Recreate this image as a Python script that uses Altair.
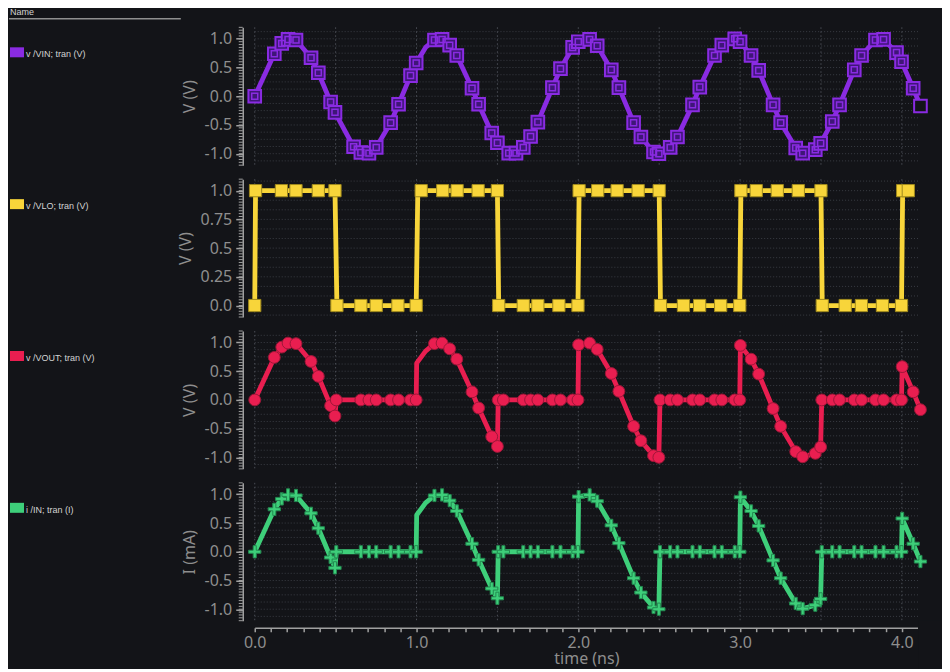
import altair as alt
import pandas as pd

BG = "#131418"
AXIS_C = "#a0a0a0"
LABEL_C = "#8e8e8e"
GRID_H = "#3a3d44"
GRID_V = "#4b4e56"
FONT = "Noto Sans"
LFONT = "Liberation Sans"

W, H = 664, 138
X_DOMAIN = [0.0, 4.1]
LX = -246  # left edge of the name column, relative to the plot area

NAMES = ["v /VIN; tran (V)", "v /VLO; tran (V)", "v /VOUT; tran (V)", "i /IN; tran (I)"]
COLORS = ["#8a2be2", "#f8d53a", "#e91e50", "#3ecf7a"]
Y_TITLES = ["V (V)", "V (V)", "V (V)", "I (mA)"]

# ---- VIN (purple) ----
VIN_T = [0.0, 0.121, 0.167, 0.206, 0.255, 0.348, 0.393, 0.469, 0.496, 0.611, 0.656, 0.706, 0.751, 0.840, 0.889, 0.963, 0.998,
         1.056,
         1.111, 1.158, 1.205, 1.249, 1.343, 1.384, 1.465, 1.500, 1.570, 1.615, 1.660, 1.705, 1.750, 1.840, 1.890, 1.965, 2.000, 2.070, 2.117,
         2.204, 2.251, 2.342, 2.387, 2.465, 2.498, 2.568, 2.613, 2.706, 2.751, 2.842, 2.887, 2.967, 3.000,
         3.068, 3.115, 3.204, 3.251, 3.344, 3.387, 3.465, 3.498, 3.570, 3.615, 3.706, 3.751, 3.837, 3.887, 3.967, 3.998, 4.070, 4.115]
VIN_V = [0.0, 0.74, 0.92, 0.99, 0.98, 0.67, 0.41, -0.10, -0.28, -0.88, -0.98, -0.99, -0.89, -0.46, -0.14, 0.36, 0.58,
         0.85,
         0.98, 0.99, 0.89, 0.71, 0.14, -0.14, -0.64, -0.81, -0.99, -0.99, -0.89, -0.70, -0.45, 0.15, 0.48, 0.85, 0.95, 0.99, 0.88,
         0.46, 0.15, -0.46, -0.71, -0.97, -1.0, -0.89, -0.71, -0.15, 0.16, 0.71, 0.89, 1.0, 0.95,
         0.71, 0.45, -0.15, -0.46, -0.90, -0.99, -0.93, -0.82, -0.44, -0.15, 0.46, 0.71, 0.98, 0.99, 0.76, 0.60, 0.14, -0.17]
VIN_LINE_ONLY = [1.056]

# ---- VLO (yellow) ----
VLO_T = [0.0, 0.005, 0.165, 0.255, 0.393, 0.496, 0.508, 0.656, 0.751, 0.885, 0.998,
         1.008, 1.029, 1.162, 1.251, 1.381, 1.500, 1.508, 1.660, 1.750, 1.880, 1.998,
         2.005, 2.120, 2.240, 2.370, 2.500, 2.508, 2.650, 2.750, 2.880, 2.998,
         3.005, 3.100, 3.230, 3.360, 3.500, 3.508, 3.650, 3.750, 3.880, 3.998,
         4.005, 4.040]
VLO_V = [0, 1, 1, 1, 1, 1, 0, 0, 0, 0, 0,
         1, 1, 1, 1, 1, 1, 0, 0, 0, 0, 0,
         1, 1, 1, 1, 1, 0, 0, 0, 0, 0,
         1, 1, 1, 1, 1, 0, 0, 0, 0, 0,
         1, 1]
VLO_LINE_ONLY = [1.008]

# ---- VOUT (red) ----
VOUT_T = [0.0, 0.121, 0.167, 0.206, 0.255, 0.348, 0.393, 0.469, 0.496, 0.504, 0.656, 0.706, 0.751, 0.840, 0.889, 0.963, 0.998,
          1.001, 1.056, 1.111, 1.158, 1.205, 1.249, 1.343, 1.384, 1.465, 1.500,
          1.505, 1.537, 1.660, 1.705, 1.750, 1.840, 1.890, 1.965, 1.998,
          2.002, 2.070, 2.117, 2.204, 2.251, 2.342, 2.387, 2.465, 2.498,
          2.505, 2.568, 2.613, 2.706, 2.751, 2.842, 2.887, 2.967, 2.998,
          3.002, 3.068, 3.115, 3.204, 3.251, 3.344, 3.387, 3.465, 3.498,
          3.505, 3.570, 3.615, 3.706, 3.751, 3.837, 3.887, 3.967, 3.998,
          4.002, 4.070, 4.115]
VOUT_V = [0.0, 0.74, 0.92, 0.99, 0.98, 0.67, 0.41, -0.10, -0.28, 0.0, 0, 0, 0, 0, 0, 0, 0,
          0.64, 0.85, 0.98, 0.99, 0.89, 0.71, 0.14, -0.14, -0.64, -0.81,
          0.0, 0, 0, 0, 0, 0, 0, 0, 0,
          0.96, 0.99, 0.88, 0.46, 0.15, -0.46, -0.71, -0.97, -1.0,
          0.0, 0, 0, 0, 0, 0, 0, 0, 0,
          0.95, 0.71, 0.45, -0.15, -0.46, -0.90, -0.99, -0.93, -0.82,
          0.0, 0, 0, 0, 0, 0, 0, 0, 0,
          0.58, 0.14, -0.17]
VOUT_LINE_ONLY = [1.001, 1.056]

# ---- I(IN) (green, mA) ----
IIN_T = [0.0, 0.121, 0.167, 0.206, 0.255, 0.348, 0.393, 0.469, 0.496, 0.504, 0.656, 0.706, 0.751, 0.840, 0.889, 0.963, 0.998,
         1.001, 1.056, 1.111, 1.158, 1.205, 1.249, 1.343, 1.384, 1.465, 1.500,
         1.505, 1.537, 1.660, 1.705, 1.750, 1.840, 1.890, 1.965, 1.998,
         2.002, 2.070, 2.117, 2.204, 2.251, 2.342, 2.387, 2.465, 2.498,
         2.505, 2.568, 2.613, 2.706, 2.751, 2.842, 2.887, 2.967, 2.998,
         3.002, 3.068, 3.115, 3.204, 3.251, 3.344, 3.387, 3.465, 3.498,
         3.505, 3.570, 3.615, 3.706, 3.751, 3.837, 3.887, 3.967, 3.998,
         4.002, 4.070, 4.115]
IIN_V = [0.0, 0.74, 0.92, 0.99, 0.98, 0.67, 0.41, -0.10, -0.28, 0.0, 0, 0, 0, 0, 0, 0, 0,
         0.64, 0.85, 0.98, 0.99, 0.89, 0.71, 0.14, -0.14, -0.64, -0.81,
         0.0, 0, 0, 0, 0, 0, 0, 0, 0,
         0.96, 0.99, 0.88, 0.46, 0.15, -0.46, -0.71, -0.97, -1.0,
         0.0, 0, 0, 0, 0, 0, 0, 0, 0,
         0.95, 0.71, 0.45, -0.15, -0.46, -0.90, -0.99, -0.93, -0.82,
         0.0, 0, 0, 0, 0, 0, 0, 0, 0,
         0.58, 0.14, -0.17]
IIN_LINE_ONLY = [1.001, 1.056]

# axis tick / grid values
X_TICKS = [round(0.1 * i, 1) for i in range(41)]
X_GRID = [round(0.5 * i, 1) for i in range(9)]
Y_MAJOR_SYM = [-1.0, -0.5, 0.0, 0.5, 1.0]
Y_MINOR_SYM = [round(-1.2 + 0.05 * i, 2) for i in range(49)]
Y_GRID_SYM = [round(-1.125 + 0.125 * i, 3) for i in range(19)]
Y_MAJOR_LO = [0.0, 0.25, 0.5, 0.75, 1.0]
Y_MINOR_LO = [round(-0.1 + 0.025 * i, 3) for i in range(49)]
Y_GRID_LO = [round(k / 12, 4) for k in range(-1, 14)]

SYM_LABEL = "datum.value < 0 ? '-' + format(-datum.value, '.1f') : format(datum.value, '.1f')"
LO_LABEL = "datum.value == 0.25 ? '0.25' : datum.value == 0.75 ? '0.75' : format(datum.value, '.1f')"


def frame(t, v, line_only, end_hollow=False):
    m = [0 if x in line_only else 1 for x in t]
    if end_hollow:
        m[-1] = 2
    return pd.DataFrame({"i": list(range(len(t))), "t": t, "v": v, "m": m})


CROSS = "M-0.25,-1H0.25V-0.25H1V0.25H0.25V1H-0.25V0.25H-1V-0.25H-0.25Z"


def panel(idx, df, y_domain, y_major, y_minor, y_grid, label_expr, show_x, show_name):
    color = COLORS[idx]
    xs = alt.Scale(domain=X_DOMAIN, nice=False, zero=False)
    ys = alt.Scale(domain=y_domain, nice=False, zero=False)
    yaxis = alt.Axis(values=y_major, labelExpr=label_expr, offset=12, grid=False,
                     tickSize=7, tickWidth=1.5, tickColor=AXIS_C, domainColor=AXIS_C, domainWidth=1.5,
                     labelColor=LABEL_C, labelFont=FONT, labelFontSize=16, labelPadding=4, labelFlush=False,
                     title=Y_TITLES[idx], titleColor=LABEL_C, titleFont=FONT, titleFontSize=16,
                     titleFontWeight="normal", titlePadding=7)
    if show_x:
        xaxis = alt.Axis(values=X_TICKS,
                         labelExpr="abs(datum.value - round(datum.value)) < 0.01 ? format(datum.value, '.1f') : ''",
                         offset=7, grid=False, tickSize=4, tickWidth=1.5, tickColor=AXIS_C,
                         domainColor=AXIS_C, domainWidth=1.5, labelColor=LABEL_C, labelFont=FONT,
                         labelFontSize=16, labelPadding=3, labelFlush=False, labelOverlap=False,
                         title="time (ns)", titleColor=LABEL_C, titleFont=FONT, titleFontSize=16,
                         titleFontWeight="normal", titlePadding=0)
    else:
        xaxis = None

    hgrid = alt.Chart(pd.DataFrame({"g": y_grid})).mark_rule(
        color=GRID_H, strokeDash=[1, 2], strokeWidth=1).encode(
        y=alt.Y("g:Q", scale=ys, axis=yaxis), x=alt.value(0), x2=alt.value(W))
    vgrid = alt.Chart(pd.DataFrame({"g": X_GRID})).mark_rule(
        color=GRID_V, strokeDash=[1.5, 2.5], strokeWidth=1).encode(
        x=alt.X("g:Q", scale=xs, axis=xaxis), y=alt.value(0), y2=alt.value(H))
    minor = alt.Chart(pd.DataFrame({"g": y_minor})).mark_rule(
        color=AXIS_C, strokeWidth=1).encode(
        y=alt.Y("g:Q", scale=ys, axis=yaxis), x=alt.value(-16), x2=alt.value(-12))
    base = alt.Chart(df)
    enc = dict(x=alt.X("t:Q", scale=xs, axis=xaxis), y=alt.Y("v:Q", scale=ys, axis=yaxis))
    line = base.mark_line(color=color, strokeWidth=4.8, strokeJoin="round", strokeCap="round").encode(
        order="i:Q", **enc)
    layers = [hgrid, vgrid, minor, line]
    if idx == 0:
        layers.append(base.transform_filter("datum.m == 1").mark_point(
            shape="square", size=160, filled=True, fill="#3f1678", stroke=color, strokeWidth=2, opacity=1
        ).encode(**enc))
        layers.append(base.transform_filter("datum.m == 1").mark_point(
            shape="square", size=36, filled=False, stroke=color, strokeWidth=1.5, opacity=1
        ).encode(**enc))
        layers.append(base.transform_filter("datum.m == 2").mark_point(
            shape="square", size=160, filled=True, fill=BG, stroke=color, strokeWidth=2, opacity=1
        ).encode(**enc))
    elif idx == 1:
        layers.append(base.transform_filter("datum.m == 1").mark_point(
            shape="square", size=150, filled=True, fill=color, stroke="#a08a1c", strokeWidth=1, opacity=1
        ).encode(**enc))
    elif idx == 2:
        layers.append(base.transform_filter("datum.m == 1").mark_point(
            shape="circle", size=140, filled=True, fill=color, stroke="#9e1738", strokeWidth=1, opacity=1
        ).encode(**enc))
    else:
        layers.append(base.transform_filter("datum.m == 1").mark_point(
            shape=CROSS, size=150, filled=True, fill=color, stroke="#238a50", strokeWidth=1, opacity=1
        ).encode(**enc))

    one = alt.Chart(pd.DataFrame({"a": [0]}))
    layers.append(one.mark_rect(color=color).encode(
        x=alt.value(LX + 1), x2=alt.value(LX + 15), y=alt.value(20), y2=alt.value(30)))
    layers.append(one.mark_text(text=NAMES[idx], align="left", baseline="alphabetic", font=LFONT,
                                fontSize=9, color="#d4d4d4").encode(x=alt.value(LX + 17), y=alt.value(30)))
    if show_name:
        layers.append(one.mark_text(text="Name", align="left", baseline="alphabetic", font=LFONT,
                                    fontSize=9, color="#d4d4d4").encode(x=alt.value(LX + 1), y=alt.value(-12)))
        layers.append(one.mark_rule(color="#8f8f8f", strokeWidth=1.5).encode(
            x=alt.value(LX), x2=alt.value(LX + 172), y=alt.value(-8.5)))
    if show_x:
        # dark filler so the canvas reaches the page's right and bottom margins
        layers.append(one.mark_rect(color=BG).encode(
            x=alt.value(W), x2=alt.value(W + 24), y=alt.value(H), y2=alt.value(H + 48)))
    return alt.layer(*layers).properties(width=W, height=H)


p0 = panel(0, frame(VIN_T, VIN_V, VIN_LINE_ONLY, end_hollow=True), [-1.2, 1.2],
           Y_MAJOR_SYM, Y_MINOR_SYM, Y_GRID_SYM, SYM_LABEL, False, True)
p1 = panel(1, frame(VLO_T, VLO_V, VLO_LINE_ONLY), [-0.1, 1.1],
           Y_MAJOR_LO, Y_MINOR_LO, Y_GRID_LO, LO_LABEL, False, False)
p2 = panel(2, frame(VOUT_T, VOUT_V, VOUT_LINE_ONLY), [-1.2, 1.2],
           Y_MAJOR_SYM, Y_MINOR_SYM, Y_GRID_SYM, SYM_LABEL, False, False)
p3 = panel(3, frame(IIN_T, IIN_V, IIN_LINE_ONLY), [-1.2, 1.2],
           Y_MAJOR_SYM, Y_MINOR_SYM, Y_GRID_SYM, SYM_LABEL, True, False)

chart = alt.vconcat(p0, p1, p2, p3, spacing=12).properties(
    padding=0, background=BG).configure_view(stroke=None)

chart.save("out.html", embed_options={"renderer": "svg", "actions": False})
